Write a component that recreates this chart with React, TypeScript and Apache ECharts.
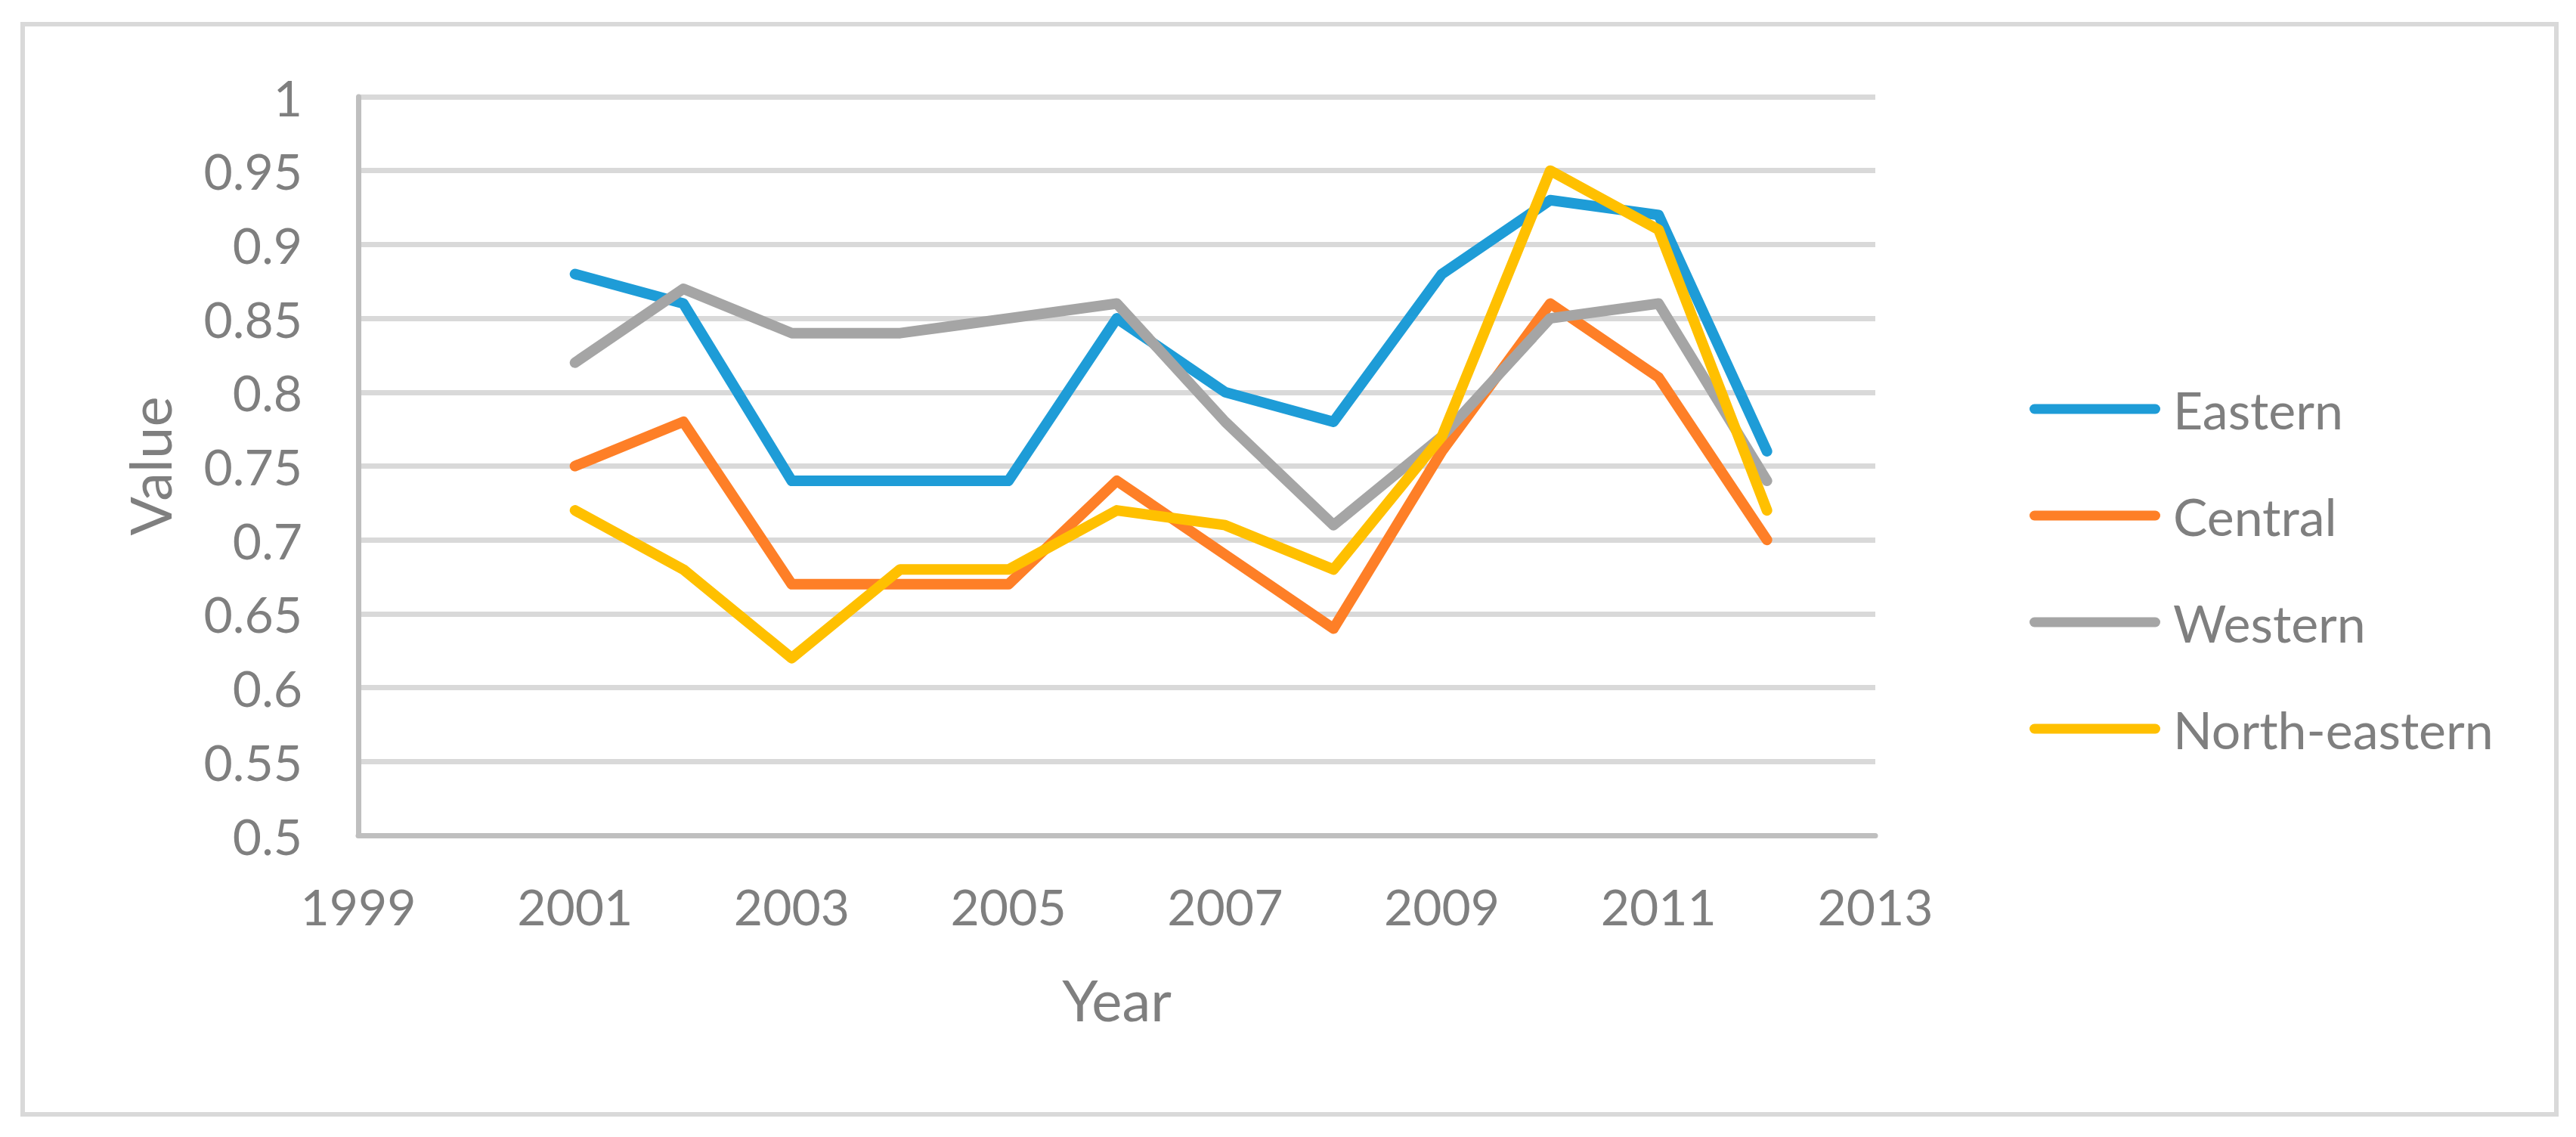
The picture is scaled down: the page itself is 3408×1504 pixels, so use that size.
import React, { useEffect, useRef } from "react";
import * as echarts from "echarts";

const years = [2001, 2002, 2003, 2004, 2005, 2006, 2007, 2008, 2009, 2010, 2011, 2012];
const eastern = [0.88, 0.86, 0.74, 0.74, 0.74, 0.85, 0.8, 0.78, 0.88, 0.93, 0.92, 0.76];
const central = [0.75, 0.78, 0.67, 0.67, 0.67, 0.74, 0.69, 0.64, 0.76, 0.86, 0.81, 0.7];
const western = [0.82, 0.87, 0.84, 0.84, 0.85, 0.86, 0.78, 0.71, 0.77, 0.85, 0.86, 0.74];
const northEastern = [0.72, 0.68, 0.62, 0.68, 0.68, 0.72, 0.71, 0.68, 0.77, 0.95, 0.91, 0.72];

const seriesNames = ["Eastern", "Central", "Western", "North-eastern"];
const seriesValues = [eastern, central, western, northEastern];
const colors = ["#1e9cd7", "#fe7f27", "#a5a5a5", "#ffc000"];

const W = 3408;
const H = 1504;
const FONT = "Lato, 'Open Sans', sans-serif";
const TEXT = "#7f7f7f";
const CAPSULE = "path://M6.5,0 H166.5 A6.5,6.5 0 0 1 166.5,13 H6.5 A6.5,6.5 0 0 1 6.5,0 Z";

export default function App() {
  const ref = useRef<HTMLDivElement>(null);
  useEffect(() => {
    if (!ref.current) return;
    const chart = echarts.init(ref.current, undefined, { renderer: "svg" });
    chart.setOption({
      animation: false,
      backgroundColor: "#ffffff",
      textStyle: { fontFamily: FONT },
      graphic: [
        {
          type: "rect",
          shape: { x: 30, y: 32, width: 3352, height: 1442 },
          style: { fill: "none", stroke: "#d9d9d9", lineWidth: 6 },
          silent: true,
        },
      ],
      grid: { left: 474, top: 128, right: W - 2481, bottom: H - 1105 },
      legend: {
        orient: "vertical",
        left: 2680,
        top: 496,
        itemWidth: 173,
        itemHeight: 13,
        itemGap: 61,
        icon: CAPSULE,
        data: seriesNames,
        textStyle: {
          color: TEXT,
          fontSize: 68,
          fontFamily: FONT,
          lineHeight: 80,
          padding: [0, 0, 0, 12],
        },
      },
      xAxis: {
        type: "value",
        min: 1999,
        max: 2013,
        interval: 2,
        name: "Year",
        nameLocation: "middle",
        nameGap: 178,
        nameTextStyle: { color: TEXT, fontSize: 76, fontFamily: FONT },
        axisLine: { show: true, lineStyle: { color: "#bfbfbf", width: 7 } },
        axisTick: { show: false },
        splitLine: { show: false },
        axisLabel: {
          color: TEXT,
          fontSize: 66,
          fontFamily: FONT,
          margin: 60,
          formatter: (v: number) => String(v),
        },
      },
      yAxis: {
        type: "value",
        min: 0.5,
        max: 1,
        interval: 0.05,
        name: "Value",
        nameLocation: "middle",
        nameGap: 239,
        nameRotate: 90,
        nameTextStyle: { color: TEXT, fontSize: 76, fontFamily: FONT },
        axisLine: { show: true, lineStyle: { color: "#bfbfbf", width: 7 } },
        axisTick: { show: false },
        splitLine: { show: true, lineStyle: { color: "#d9d9d9", width: 7 } },
        axisLabel: {
          color: TEXT,
          fontSize: 66,
          fontFamily: FONT,
          margin: 74,
          formatter: (v: number) => String(Math.round(v * 100) / 100),
        },
      },
      series: seriesNames.map((name, i) => ({
        name,
        type: "line",
        data: years.map((y, j) => [y, seriesValues[i][j]]),
        symbol: "none",
        color: colors[i],
        lineStyle: { color: colors[i], width: 14, cap: "round", join: "round" },
        itemStyle: { color: colors[i] },
      })),
    });
    return () => chart.dispose();
  }, []);
  return (
    <div
      ref={ref}
      style={{ position: "fixed", left: 0, top: 0, width: W, height: H, background: "#fff" }}
    />
  );
}
